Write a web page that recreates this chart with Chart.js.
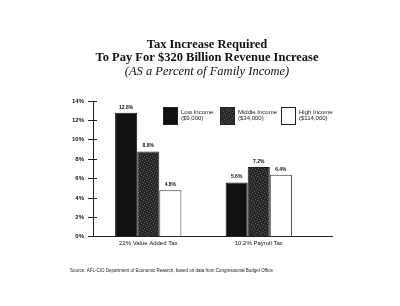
<!DOCTYPE html>
<html>
<head>
<meta charset="utf-8">
<script src="https://cdn.jsdelivr.net/npm/chart.js@4.4.0/dist/chart.umd.min.js"></script>
<style>
  html, body { margin: 0; padding: 0; background: #fff; }
  #wrap { width: 400px; height: 306px; }
</style>
</head>
<body>
<div id="wrap"><canvas id="chart" width="400" height="306"></canvas></div>
<script>
// chart data
const categories = ['22% Value Added Tax', '10.2% Payroll Tax'];
const lowIncome = [12.8, 5.6];
const middleIncome = [8.8, 7.2];
const highIncome = [4.8, 6.4];
const seriesNames = [['Low Income', '($9,000)'], ['Middle Income', '($34,000)'], ['High Income', '($114,000)']];
const yTicks = [0, 2, 4, 6, 8, 10, 12, 14];
const titleLines = ['Tax Increase Required', 'To Pay For $320 Billion Revenue Increase'];
const subtitleText = '(AS a Percent of Family Income)';

// speckled fill for the middle bars, like the photocopy
function speckle() {
  const c = document.createElement('canvas');
  c.width = 6; c.height = 6;
  const g = c.getContext('2d');
  g.fillStyle = '#262626';
  g.fillRect(0, 0, 6, 6);
  g.fillStyle = '#5a5a5a';
  [[0, 0], [3, 1], [1, 3], [4, 4], [5, 2], [2, 5]].forEach(p => g.fillRect(p[0], p[1], 1, 1));
  return g.createPattern(c, 'repeat');
}

const ctx = document.getElementById('chart').getContext('2d');

const extras = {
  id: 'extras',
  afterDatasetsDraw(chart) {
    const c = chart.ctx;
    const y = chart.scales.y;
    const area = chart.chartArea;
    c.save();
    // title block, centred on the page rather than the plot
    c.fillStyle = '#111';
    c.textAlign = 'center';
    c.textBaseline = 'middle';
    c.font = 'bold 12.5px "Liberation Serif", "Times New Roman", serif';
    titleLines.forEach((t, i) => c.fillText(t, 207, 45 + i * 13));
    c.font = 'italic 12.5px "Liberation Serif", "Times New Roman", serif';
    c.fillText(subtitleText, 207, 72);
    // value labels above each bar
    c.font = 'bold 5px "Liberation Sans", Arial, sans-serif';
    c.textBaseline = 'bottom';
    chart.data.datasets.forEach((ds, i) => {
      chart.getDatasetMeta(i).data.forEach((bar, j) => {
        c.fillText(ds.data[j].toFixed(1) + '%', bar.x, bar.y - 3);
      });
    });
    // tick marks inside the axis too
    c.strokeStyle = '#222';
    c.lineWidth = 1;
    yTicks.forEach(t => {
      const py = Math.round(y.getPixelForValue(t) - 0.5) + 0.5;
      c.beginPath();
      c.moveTo(area.left, py);
      c.lineTo(area.left + 4, py);
      c.stroke();
    });
    // baseline runs past the last group
    const by = Math.round(area.bottom - 0.5) + 0.5;
    c.beginPath();
    c.moveTo(area.right - 1, by);
    c.lineTo(area.right + 19, by);
    c.stroke();
    // legend
    c.textAlign = 'left';
    c.textBaseline = 'top';
    c.font = '6px "Liberation Sans", Arial, sans-serif';
    const lx = [163, 220, 281];
    chart.data.datasets.forEach((ds, i) => {
      c.fillStyle = ds.backgroundColor;
      c.fillRect(lx[i], 107, 15, 18);
      c.strokeStyle = '#222';
      c.strokeRect(lx[i] + 0.5, 107.5, 14, 17);
      c.fillStyle = '#222';
      seriesNames[i].forEach((line, k) => c.fillText(line, lx[i] + 18, 109 + k * 6));
    });
    // source note
    c.font = '4.5px "Liberation Sans", Arial, sans-serif';
    c.fillText('Source: AFL-CIO Department of Economic Reasrch, based on data from Congressional Budget Office', 70, 269);
    c.restore();
  }
};

new Chart(ctx, {
  type: 'bar',
  data: {
    labels: categories,
    datasets: [
      { label: 'Low Income ($9,000)', data: lowIncome, backgroundColor: '#111111', borderColor: '#111111', borderWidth: 1 },
      { label: 'Middle Income ($34,000)', data: middleIncome, backgroundColor: speckle(), borderColor: '#222', borderWidth: 1 },
      { label: 'High Income ($114,000)', data: highIncome, backgroundColor: '#ffffff', borderColor: '#333', borderWidth: 1 }
    ]
  },
  plugins: [extras],
  options: {
    responsive: false,
    animation: false,
    layout: { padding: { left: 0, right: 86, top: 101, bottom: 56 } },
    datasets: {
      bar: { categoryPercentage: 0.6, barPercentage: 1.0 }
    },
    plugins: {
      legend: { display: false },
      tooltip: { enabled: false },
      title: { display: false }
    },
    scales: {
      x: {
        offset: true,
        grid: { display: false, tickLength: 0 },
        border: { color: '#222', width: 1 },
        ticks: { color: '#111', font: { family: '"Liberation Sans", Arial, sans-serif', size: 6 }, padding: 3 }
      },
      y: {
        min: 0,
        max: 14,
        afterFit(scale) { scale.width = 93; },
        afterBuildTicks(scale) { scale.ticks = yTicks.map(v => ({ value: v })); },
        grid: { drawOnChartArea: false, tickLength: 5, color: '#222' },
        border: { color: '#222', width: 1 },
        ticks: {
          color: '#111',
          padding: 4,
          font: { family: '"Liberation Sans", Arial, sans-serif', size: 6, weight: 'bold' },
          callback: v => v + '%'
        }
      }
    }
  }
});
</script>
</body>
</html>
